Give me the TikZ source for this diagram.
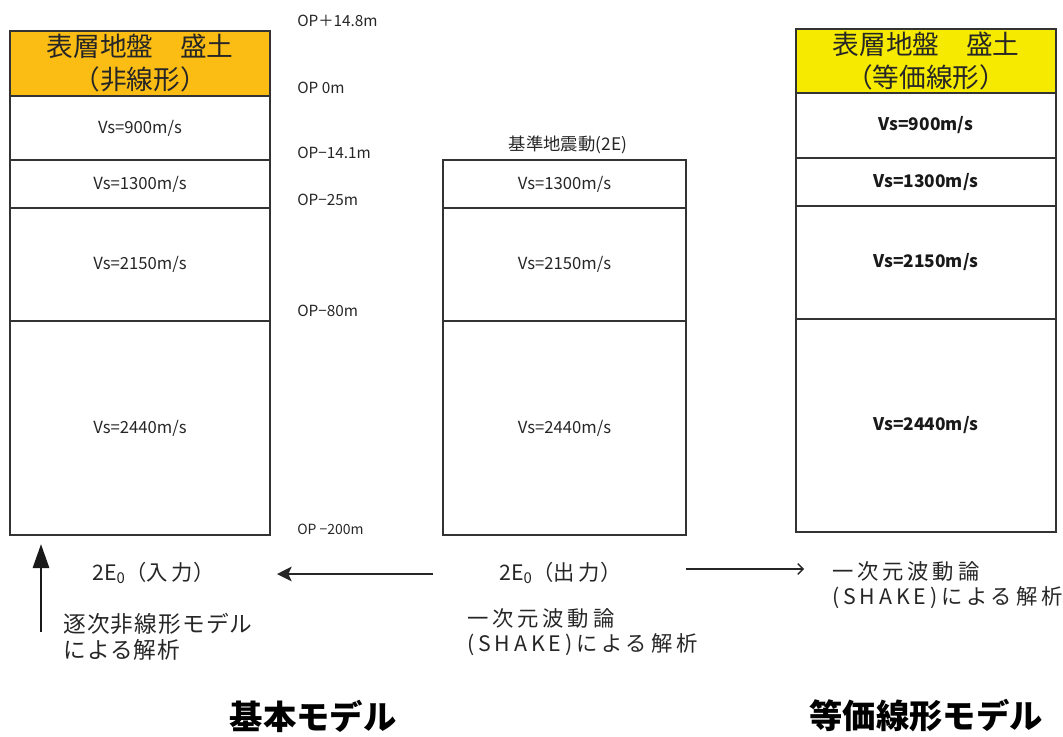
\documentclass[tikz,border=0pt]{standalone}
\usepackage{fontspec}
\setmainfont{Noto Sans CJK JP}
\newfontfamily\spacedfont[LetterSpace=18]{Noto Sans CJK JP}
\newfontfamily\notefont[LetterSpace=5]{Noto Sans CJK JP}
\usetikzlibrary{fit,arrows.meta}
\definecolor{orangefill}{HTML}{FBBD14}
\definecolor{yellowfill}{HTML}{F5EA00}
\definecolor{linegray}{HTML}{333333}
\begin{document}
\begin{tikzpicture}[x=0.75pt,y=-0.75pt,
  lay/.style={draw=linegray, line width=0.9pt, inner sep=0pt},
  vs/.style={inner sep=0pt, text=black!85, font=\fontsize{12.5pt}{14pt}\selectfont},
  vsb/.style={inner sep=0pt, text=black!90, font=\fontsize{13pt}{14pt}\selectfont\bfseries},
  headtext/.style={align=center, inner sep=0pt, text=black!85, font=\fontsize{20pt}{25pt}\selectfont},
  oplabel/.style={anchor=west, inner sep=0pt, text=black!85, font=\fontsize{11.5pt}{13pt}\selectfont},
  eolabel/.style={inner sep=0pt, text=black!85, font=\fontsize{16pt}{18pt}\selectfont},
  note/.style={anchor=west, inner sep=0pt, align=left, text=black!85, font=\fontsize{17pt}{19.5pt}\notefont},
  snote/.style={anchor=west, inner sep=0pt, align=left, text=black!85, font=\fontsize{16pt}{19pt}\spacedfont},
  title/.style={inner sep=0pt, font=\fontsize{25pt}{28pt}\selectfont\bfseries}
]
\useasboundingbox (0,0) rectangle (1063,736);

% left column (basic model)
\node[lay, fill=orangefill, fit={(10,31)(270,96)}] (L0) {};
\node[headtext] (L0t) at (140,63) {表層地盤　盛土\\（非線形）};
\node[lay, fit={(10,96)(270,160)}] (L1) {};
\node[lay, fit={(10,160)(270,208)}] (L2) {};
\node[lay, fit={(10,208)(270,321)}] (L3) {};
\node[lay, fit={(10,321)(270,535)}] (L4) {};
\node[vs] (L1t) at (L1.center) {Vs=900m/s};
\node[vs] (L2t) at (L2.center) {Vs=1300m/s};
\node[vs] (L3t) at (L3.center) {Vs=2150m/s};
\node[vs] (L4t) at (L4.center) {Vs=2440m/s};

% middle column
\node[inner sep=0pt, text=black!85, font=\fontsize{13pt}{15pt}\selectfont] (Mt) at (568,145) {基準地震動(2E)};
\node[lay, fit={(443,160)(686,208)}] (M2) {};
\node[lay, fit={(443,208)(686,321)}] (M3) {};
\node[lay, fit={(443,321)(686,535)}] (M4) {};
\node[vs] (M2t) at (M2.center) {Vs=1300m/s};
\node[vs] (M3t) at (M3.center) {Vs=2150m/s};
\node[vs] (M4t) at (M4.center) {Vs=2440m/s};

% right column (equivalent linear)
\node[lay, fill=yellowfill, fit={(796,29)(1056,93)}] (R0) {};
\node[headtext] (R0t) at (926,61) {表層地盤　盛土\\（等価線形）};
\node[lay, fit={(796,93)(1056,158)}] (R1) {};
\node[lay, fit={(796,158)(1056,206)}] (R2) {};
\node[lay, fit={(796,206)(1056,319)}] (R3) {};
\node[lay, fit={(796,319)(1056,532)}] (R4) {};
\node[vsb] (R1t) at (R1.center) {Vs=900m/s};
\node[vsb] (R2t) at (R2.center) {Vs=1300m/s};
\node[vsb] (R3t) at (R3.center) {Vs=2150m/s};
\node[vsb] (R4t) at (R4.center) {Vs=2440m/s};

% elevation labels
\node[oplabel] (op1) at (297,21) {OP＋14.8m};
\node[oplabel] (op2) at (297,88) {OP 0m};
\node[oplabel] (op3) at (297,153) {OP−14.1m};
\node[oplabel] (op4) at (297,200) {OP−25m};
\node[oplabel] (op5) at (297,311) {OP−80m};
\node[oplabel, font=\fontsize{10.5pt}{12pt}\selectfont] (op6) at (297,529) {OP −200m};

% motion labels
\node[eolabel, anchor=west] (inp) at (92,573) {2E\textsubscript{0}（入\,力）};
\node[eolabel, anchor=west] (outp) at (499,573) {2E\textsubscript{0}（出\,力）};

\node[note] (n1) at (63,637) {逐次非線形モデル\\による解析};
\node[snote] (n2) at (467,632) {一次元波動論\\(SHAKE)による解析};
\node[snote] (n3) at (832,585) {一次元波動論\\(SHAKE)による解析};

% arrows
\coordinate (upS) at (41,632);
\coordinate (upE) at (41,544);
\draw[line width=2.2pt, draw=black!90, -{Triangle[length=18pt,width=12pt]}] (upS) -- (upE);
\coordinate (lfS) at (433,574);
\coordinate (lfE) at (277,574);
\draw[line width=1.4pt, draw=black!85, -{Stealth[length=11pt,width=11pt,inset=2.5pt]}] (lfS) -- (lfE);
\coordinate (rtS) at (686,569);
\coordinate (rtE) at (804,569);
\draw[line width=1pt, draw=black!85, -{Straight Barb[length=4pt,width=8pt]}] (rtS) -- (rtE);

% titles
\node[title] (T1) at (313,716) {基本モデル};
\node[title] (T2) at (926,716) {等価線形モデル};
\end{tikzpicture}
\end{document}
